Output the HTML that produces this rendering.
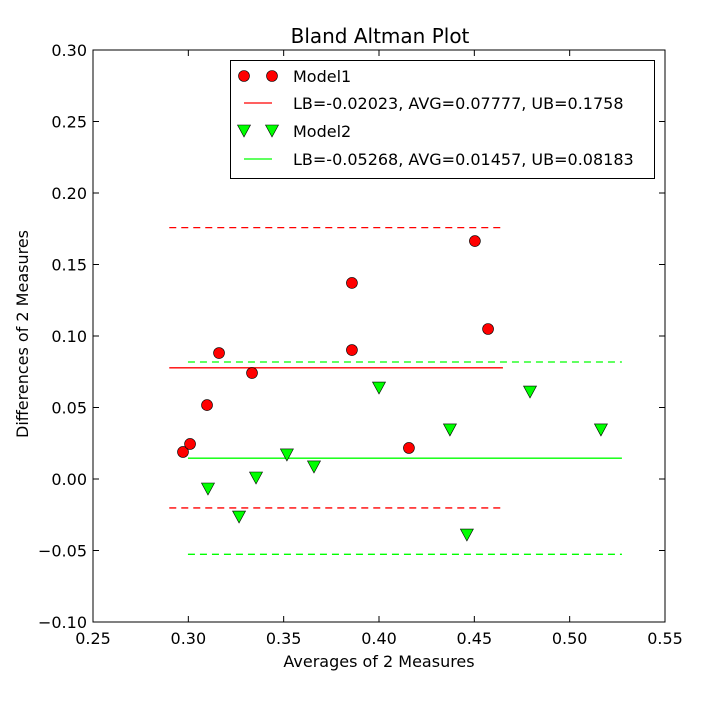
<!DOCTYPE html>
<html><head><meta charset="utf-8"><style>
html,body{margin:0;padding:0;background:#fff;}
svg text{font-family:"DejaVu Sans","Liberation Sans",sans-serif;fill:#000;}
</style></head><body>
<svg id="chart" width="715" height="715" viewBox="0 0 715 715" xmlns="http://www.w3.org/2000/svg"></svg>
<script>
const xTicks=[0.25,0.30,0.35,0.40,0.45,0.50,0.55];
const yTicks=[-0.10,-0.05,0.00,0.05,0.10,0.15,0.20,0.25,0.30];
const m1x=[0.2972,0.3009,0.3098,0.3161,0.3334,0.3858,0.3858,0.4157,0.4503,0.4572];
const m1y=[0.0189,0.0245,0.0517,0.0881,0.0741,0.1371,0.0902,0.0217,0.1664,0.1049];
const m2x=[0.3103,0.3266,0.3355,0.3517,0.3659,0.4000,0.4372,0.4461,0.4792,0.5164];
const m2y=[-0.0063,-0.0259,0.0014,0.0175,0.0091,0.0643,0.0350,-0.0385,0.0615,0.0350];
const m1Stats=[-0.02023,0.07777,0.1758];
const m2Stats=[-0.05268,0.01457,0.08183];
const m1Range=[0.29,0.465];
const m2Range=[0.2998,0.5274];
const legendLabels=["Model1","LB=-0.02023, AVG=0.07777, UB=0.1758","Model2","LB=-0.05268, AVG=0.01457, UB=0.08183"];

const L=93,R=665,T=50,B=622;
const X=v=>L+(v-0.25)/0.30*(R-L);
const Y=v=>B-(v+0.10)/0.40*(B-T);
const svg=document.getElementById('chart');
const NS='http://www.w3.org/2000/svg';
function mk(tag,attrs,parent){const e=document.createElementNS(NS,tag);for(const k in attrs)e.setAttribute(k,attrs[k]);(parent||svg).appendChild(e);return e;}

let t=mk('text',{x:380,y:43,'font-size':20,'text-anchor':'middle'});t.textContent='Bland Altman Plot';


t=mk('text',{x:379,y:667,'font-size':16,'text-anchor':'middle'});t.textContent='Averages of 2 Measures';


t=mk('text',{x:0,y:0,'font-size':16,'text-anchor':'middle',transform:'translate(28,334) rotate(-90)'});t.textContent='Differences of 2 Measures';



xTicks.forEach(v=>{const x=X(v);
 mk('line',{x1:x,x2:x,y1:B,y2:B-6,stroke:'#000'});mk('line',{x1:x,x2:x,y1:T,y2:T+6,stroke:'#000'});
 const tx=mk('text',{x:x,y:B+22,'font-size':16,'text-anchor':'middle'});tx.textContent=v.toFixed(2);
 
 });
yTicks.forEach(v=>{const y=Y(v);
 mk('line',{x1:L,x2:L+6,y1:y,y2:y,stroke:'#000'});mk('line',{x1:R,x2:R-6,y1:y,y2:y,stroke:'#000'});
 const tx=mk('text',{x:L-6,y:y+6,'font-size':16,'text-anchor':'end'});tx.textContent=v.toFixed(2).replace('-','−');
 
 });

function stats(s,rng,col,name){
 s.forEach((v,i)=>{const l=mk('line',{x1:X(rng[0]),x2:X(rng[1]),y1:Y(v),y2:Y(v),stroke:col,'stroke-width':1.3});
  if(i!==1)l.setAttribute('stroke-dasharray','7,5');
  
  });
}
stats(m1Stats,m1Range,'#ff0000','model1');
stats(m2Stats,m2Range,'#00ff00','model2');

function circ(x,y){const c=mk('circle',{cx:x,cy:y,r:5.5,fill:'#ff0000',stroke:'#000','stroke-width':0.6});return c;}
function tri(x,y){const p=mk('polygon',{points:`${x-6.5},${y-5} ${x+6.5},${y-5} ${x},${y+7}`,fill:'#00ff00',stroke:'#000','stroke-width':0.6});return p;}
m1x.forEach((v,i)=>{const c=circ(X(v),Y(m1y[i]));
 
 });
m2x.forEach((v,i)=>{const p=tri(X(v),Y(m2y[i]));
 
 });

const frame=mk('rect',{x:L,y:T,width:R-L,height:B-T,fill:'none',stroke:'#000','stroke-width':1});



const lg=mk('g',{});


mk('rect',{x:230.5,y:60.5,width:424,height:118,fill:'#fff',stroke:'#000'},lg);
const rows=[76,103,131,159];
circ(244,rows[0]);circ(272,rows[0]);
mk('line',{x1:244,x2:272,y1:rows[1],y2:rows[1],stroke:'#ff0000','stroke-width':1.3},lg);
tri(244,rows[2]-1);tri(272,rows[2]-1);
mk('line',{x1:244,x2:272,y1:rows[3],y2:rows[3],stroke:'#00ff00','stroke-width':1.3},lg);
legendLabels.forEach((s,i)=>{const tx=mk('text',{x:293,y:rows[i]+6,'font-size':16},lg);tx.textContent=s;
 
 });
</script>
</body></html>
